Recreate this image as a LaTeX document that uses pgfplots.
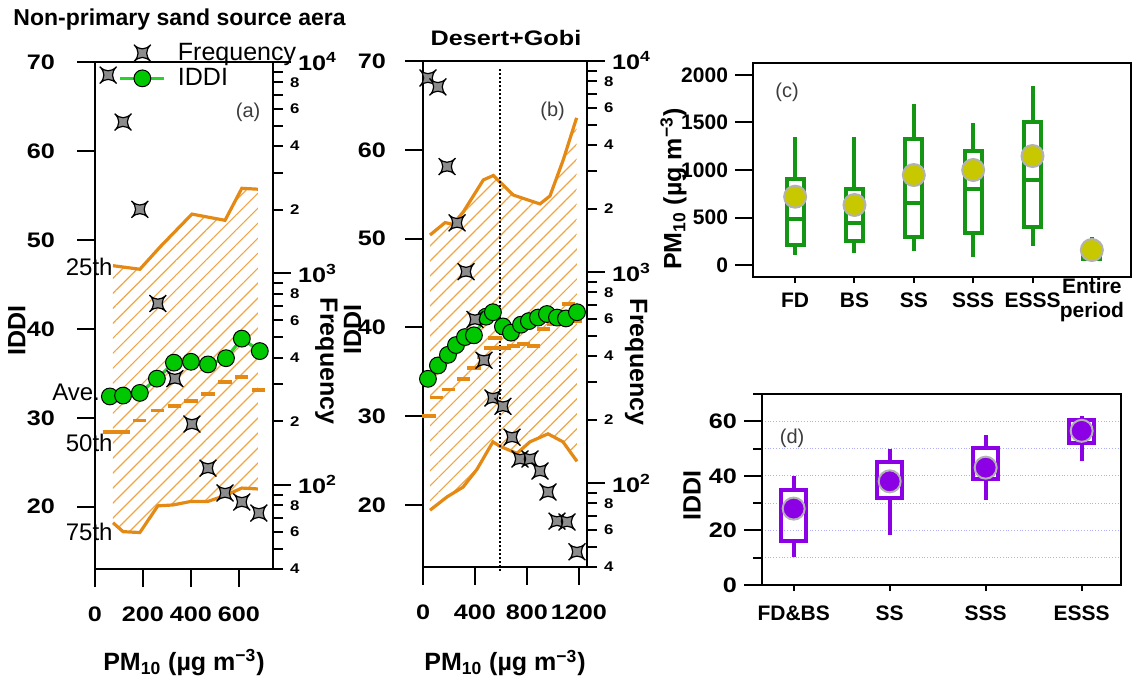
\documentclass[border=0pt]{standalone}
\usepackage{fontspec}
\setmainfont{Liberation Sans}
\newfontfamily\wide{Liberation Sans}[FakeStretch=1.2]
\usepackage{pgfplots}
\pgfplotsset{compat=1.18}
\usepgfplotslibrary{fillbetween}
\usetikzlibrary{patterns.meta}

\definecolor{orangeC}{RGB}{228,138,20}
\definecolor{hatchC}{RGB}{238,165,70}
\definecolor{greenC}{RGB}{0,200,0}
\definecolor{greenL}{RGB}{40,210,40}
\definecolor{starG}{RGB}{140,140,140}
\definecolor{boxG}{RGB}{20,150,20}
\definecolor{meanY}{RGB}{200,200,0}
\definecolor{purp}{RGB}{140,0,230}
\definecolor{gridB}{RGB}{175,175,255}
\definecolor{albl}{RGB}{60,60,60}

\pgfdeclareplotmark{star4}{%
  \pgfpathmoveto{\pgfqpoint{\pgfplotmarksize}{\pgfplotmarksize}}%
  \pgfpathcurveto{\pgfqpoint{0.35\pgfplotmarksize}{0.35\pgfplotmarksize}}{\pgfqpoint{-0.35\pgfplotmarksize}{0.35\pgfplotmarksize}}{\pgfqpoint{-\pgfplotmarksize}{\pgfplotmarksize}}%
  \pgfpathcurveto{\pgfqpoint{-0.35\pgfplotmarksize}{0.35\pgfplotmarksize}}{\pgfqpoint{-0.35\pgfplotmarksize}{-0.35\pgfplotmarksize}}{\pgfqpoint{-\pgfplotmarksize}{-\pgfplotmarksize}}%
  \pgfpathcurveto{\pgfqpoint{-0.35\pgfplotmarksize}{-0.35\pgfplotmarksize}}{\pgfqpoint{0.35\pgfplotmarksize}{-0.35\pgfplotmarksize}}{\pgfqpoint{\pgfplotmarksize}{-\pgfplotmarksize}}%
  \pgfpathcurveto{\pgfqpoint{0.35\pgfplotmarksize}{-0.35\pgfplotmarksize}}{\pgfqpoint{0.35\pgfplotmarksize}{0.35\pgfplotmarksize}}{\pgfqpoint{\pgfplotmarksize}{\pgfplotmarksize}}%
  \pgfpathclose
  \pgfusepathqfillstroke}

\newcommand\tk{\wide\bfseries\fontsize{10.5}{12}\selectfont}
\newcommand\tkn{\bfseries\fontsize{10.5}{12}\selectfont}
\newcommand\tks{\wide\bfseries\fontsize{7}{8}\selectfont}
\newcommand\lb{\bfseries\fontsize{12.5}{14}\selectfont}
\newcommand\ann{\fontsize{12}{14}\selectfont}
\newcommand\pl{\color{albl}\fontsize{10}{12}\selectfont}
\newcommand\pmlab{PM\textsubscript{10} (µg m\textsuperscript{−3})}

\pgfplotsset{
  myax/.style={scale only axis, clip=false, anchor=south west,
    axis line style={line width=1pt},
    every tick/.append style={line width=1pt,black},
    tick align=outside, major tick length=9pt, minor tick length=4.5pt,
    tick label style={font=\tk},
    /pgf/number format/assume math mode=true,
    /pgf/number format/1000 sep={},
    label style={font=\lb}},
  logax/.style={myax, axis x line=none, axis y line*=right,
    ymin=40, ymax=10000, yminorticks=false,
    ytick={100,1000,10000},
    yticklabels={10\textsuperscript{2},10\textsuperscript{3},10\textsuperscript{4}},
    extra y ticks={40,50,60,70,80,90,200,300,400,500,600,700,800,900,2000,3000,4000,5000,6000,7000,8000,9000},
    extra y tick labels={4,,6,,8,,2,,4,,6,,8,,2,,4,,6,,8,},
    extra y tick style={major tick length=5pt, tick label style={font=\tks}},
    ylabel={Frequency}},
  starst/.style={only marks, mark=star4, mark size=4.2pt,
    mark options={fill=starG, draw=black, line width=0.6pt}},
  hatch/.style={draw=none, pattern={Lines[angle=45,distance=5.3pt,line width=0.6pt]}, pattern color=hatchC},
  pctl/.style={orangeC, line width=1.6pt},
  dashst/.style={only marks, mark=-, mark size=3.3pt, mark options={line width=1.8pt, orangeC}},
  iddist/.style={color=greenL, line width=1.6pt, mark=*, mark size=4.2pt,
    mark options={fill=greenC, draw=black, line width=0.5pt}},
  bxg/.style={boxG, line width=2pt, line join=miter, unbounded coords=jump, mark=none},
  bxp/.style={purp, line width=2pt, line join=miter, unbounded coords=jump, mark=none},
}

\begin{document}
\begin{tikzpicture}

\node[anchor=west, inner sep=0pt, font=\bfseries\fontsize{11.5}{13}\selectfont] at (6.5pt,328pt) {Non-primary sand source aera};
\node[font=\wide\bfseries\fontsize{10.5}{13}\selectfont] at (253pt,319pt) {Desert+Gobi};

% ---------------- panel (a) ----------------
\begin{axis}[myax, at={(47.5pt,53.5pt)}, width=89pt, height=253.5pt,
  xticklabel style={yshift=-6.5pt}, yticklabel style={xshift=-7.5pt},
  xmin=0, xmax=742, ymin=13, ymax=70,
  xtick={0,200,400,600}, ytick={20,30,...,70},
  xtick pos=bottom, ytick pos=left,
  xlabel={\pmlab}, ylabel={IDDI},
  xlabel style={at={(axis description cs:0.5,-0.185)}, anchor=center},
  ylabel style={at={(axis description cs:-0.44,0.47)}, anchor=center},
  legend style={draw=none, fill=none, font=\fontsize{12.5}{14}\selectfont,
    at={(0.12,1.05)}, anchor=north west, row sep=-1.5pt, column sep=4pt, inner sep=1pt},
  legend cell align=left,
  legend image code/.code={\draw[mark repeat=2,mark phase=2,#1] plot coordinates {(0pt,0pt) (11pt,0pt) (22pt,0pt)};},
]
\addlegendimage{starst}
\addlegendentry{Frequency}
\addplot[name path=upA, draw=none, forget plot] coordinates {(75,47.1) (187,46.7) (271,49.2) (404,52.9) (542,52.2) (612,55.8) (679,55.7)};
\addplot[name path=loA, draw=none, forget plot] coordinates {(75,18.2) (117,17.2) (187,17.1) (262,20.1) (325,20.2) (400,20.6) (471,20.6) (546,21.3) (612,22.1) (679,22.0)};
\addplot[hatch, forget plot] fill between[of=upA and loA];
\addplot[pctl, forget plot] coordinates {(75,47.1) (187,46.7) (271,49.2) (404,52.9) (542,52.2) (612,55.8) (679,55.7)};
\addplot[pctl, forget plot] coordinates {(75,18.2) (117,17.2) (187,17.1) (262,20.1) (325,20.2) (400,20.6) (471,20.6) (546,21.3) (612,22.1) (679,22.0)};
\addplot[dashst, forget plot] coordinates {(62,28.4) (117,28.4) (187,29.7) (260,30.8) (330,31.3) (400,31.9) (471,32.7) (542,34.0) (612,34.6) (683,33.1)};
\addplot[iddist] coordinates {(62,32.4) (117,32.5) (187,32.8) (258,34.4) (329,36.2) (400,36.3) (471,36.0) (546,36.7) (612,38.9) (687,37.5)};
\addlegendentry{IDDI}
\node[anchor=east, font=\ann, inner sep=0pt] at (axis cs:75,47.0) {25th};
\node[anchor=east, font=\ann, inner sep=0pt] at (axis cs:22,32.9) {Ave.};
\node[anchor=east, font=\ann, inner sep=0pt] at (axis cs:75,27.2) {50th};
\node[anchor=east, font=\ann, inner sep=0pt] at (axis cs:75,17.2) {75th};
\node[font=\pl] at (rel axis cs:0.86,0.9) {(a)};
\end{axis}
\begin{axis}[logax, ymode=log, at={(47.5pt,53.5pt)}, width=89pt, height=253.5pt,
  xmin=0, xmax=742,
  ylabel style={at={(axis description cs:1.30,0.41)}, anchor=center, rotate=180}]
\addplot[starst] coordinates {(55,8670) (117,5200) (187,2010) (262,721) (333,318) (404,194) (471,120) (542,91.6) (612,83) (683,73.6)};
\end{axis}

% ---------------- panel (b) ----------------
\begin{axis}[myax, at={(211.5pt,54.5pt)}, width=82pt, height=253pt,
  xticklabel style={yshift=-6.5pt}, yticklabel style={xshift=-6pt},
  xmin=0, xmax=1262, ymin=13, ymax=70,
  xtick={0,400,800,1200}, ytick={20,30,...,70},
  xtick pos=bottom, ytick pos=left,
  xlabel={\pmlab}, ylabel={IDDI},
  xlabel style={at={(axis description cs:0.5,-0.19)}, anchor=center},
  ylabel style={at={(axis description cs:-0.43,0.47)}, anchor=center},
]
\addplot[name path=upB, draw=none] coordinates {(54,50.4) (170,51.8) (230,51.6) (310,53.0) (464,56.6) (541,57.1) (695,54.9) (900,53.9) (977,54.8) (1080,58.9) (1182,63.6)};
\addplot[name path=loB, draw=none] coordinates {(54,19.4) (185,20.9) (308,22.0) (415,24.0) (538,27.1) (592,26.6) (723,25.8) (823,27.1) (962,28.0) (1077,27.1) (1185,24.9)};
\addplot[hatch] fill between[of=upB and loB];
\addplot[pctl] coordinates {(54,50.4) (170,51.8) (230,51.6) (310,53.0) (464,56.6) (541,57.1) (695,54.9) (900,53.9) (977,54.8) (1080,58.9) (1182,63.6)};
\addplot[pctl] coordinates {(54,19.4) (185,20.9) (308,22.0) (415,24.0) (538,27.1) (592,26.6) (723,25.8) (823,27.1) (962,28.0) (1077,27.1) (1185,24.9)};
\addplot[black, line width=1pt, densely dotted] coordinates {(592,12.6) (592,69.3)};
\addplot[dashst] coordinates {(46,30.0) (105,32.1) (195,33.0) (310,34.2) (392,35.4) (464,36.6) (521,37.7) (554,38.8) (623,37.7) (695,37.9) (772,38.1) (849,37.9) (925,39.8) (1002,40.3) (1041,41.5) (1118,42.6) (1169,40.7)};
\addplot[iddist] coordinates {(38,34.2) (115,35.7) (192,36.9) (254,38.0) (323,38.9) (392,39.1) (485,41.2) (538,41.7) (615,40.1) (677,39.4) (754,40.3) (815,40.7) (885,41.1) (954,41.5) (1031,41.1) (1100,41.0) (1185,41.7)};
\node[font=\pl] at (rel axis cs:0.79,0.9) {(b)};
\end{axis}
\begin{axis}[logax, ymode=log, at={(211.5pt,54.5pt)}, width=82pt, height=253pt,
  xmin=0, xmax=1262,
  ylabel style={at={(axis description cs:1.30,0.405)}, anchor=center, rotate=180}]
\addplot[starst] coordinates {(38,8310) (115,7540) (185,3160) (262,1710) (331,1004) (400,596) (469,382) (538,253) (615,231) (685,165) (746,130) (823,130) (900,114) (962,90.7) (1031,66) (1108,65.4) (1185,47.2)};
\end{axis}

% ---------------- panel (c) ----------------
\begin{axis}[myax, at={(376.5pt,199.5pt)}, width=189pt, height=107pt,
  tick label style={font=\tkn},
  xmin=-0.71, xmax=5.66, ymin=-126, ymax=2126,
  xtick={0,1,2,3,4,5}, xticklabels={FD,BS,SS,SSS,ESSS,{Entire\\period}},
  xticklabel style={align=center, anchor=center, yshift=-2.5pt},
  ytick={0,500,1000,1500,2000},
  xtick pos=bottom, ytick pos=left,
  xtick style={/pgfplots/major tick length=3pt},
  ylabel={\pmlab},
  ylabel style={at={(axis description cs:-0.21,0.41)}, anchor=center},
]
\addplot[bxg] coordinates {(0,105) (0,210) (0.145,210) (0.145,902) (0,902) (0,1344) (nan,nan) (0,902) (-0.145,902) (-0.145,210) (0,210) (nan,nan) (-0.145,484) (0.145,484)};
\addplot[bxg] coordinates {(1,123) (1,256) (1.145,256) (1.145,800) (1,800) (1,1350) (nan,nan) (1,800) (0.855,800) (0.855,256) (1,256) (nan,nan) (0.855,445) (1.145,445)};
\addplot[bxg] coordinates {(2,151) (2,291) (2.145,291) (2.145,1323) (2,1323) (2,1695) (nan,nan) (2,1323) (1.855,1323) (1.855,291) (2,291) (nan,nan) (1.855,649) (2.145,649)};
\addplot[bxg] coordinates {(3,81) (3,333) (3.145,333) (3.145,1203) (3,1203) (3,1491) (nan,nan) (3,1203) (2.855,1203) (2.855,333) (3,333) (nan,nan) (2.855,800) (3.145,800)};
\addplot[bxg] coordinates {(4,200) (4,397) (4.145,397) (4.145,1502) (4,1502) (4,1888) (nan,nan) (4,1502) (3.855,1502) (3.855,397) (4,397) (nan,nan) (3.855,895) (4.145,895)};
\addplot[bxg] coordinates {(5,40) (5,60) (5.145,60) (5.145,100) (5,100) (5,300) (nan,nan) (5,100) (4.855,100) (4.855,60) (5,60) (nan,nan) (4.855,80) (5.145,80)};
\addplot[only marks, mark=*, mark size=5.5pt, mark options={fill=meanY, draw=black!30, line width=1pt}] coordinates {(0,719) (1,632) (2,947) (3,1000) (4,1147) (5,158)};
\node[font=\pl] at (rel axis cs:0.09,0.865) {(c)};
\end{axis}

% ---------------- panel (d) ----------------
\begin{axis}[myax, at={(381pt,45.5pt)}, width=179.5pt, height=95.5pt,
  xmin=-0.33, xmax=3.41, ymin=0, ymax=70,
  xtick={0,1,2,3}, xticklabels={FD\&BS,SS,SSS,ESSS},
  xticklabel style={font=\tkn, yshift=2pt},
  ytick={0,20,40,60}, minor ytick={10,30,50,70},
  xtick pos=bottom, ytick pos=left,
  xtick style={/pgfplots/major tick length=3pt},
  ymajorgrids, yminorgrids,
  major grid style={gridB, densely dotted, line width=0.6pt},
  minor grid style={gridB, densely dotted, line width=0.6pt},
  ylabel={IDDI},
  ylabel style={at={(axis description cs:-0.195,0.47)}, anchor=center},
]
\addplot[bxp] coordinates {(0,10.2) (0,16) (0.13,16) (0.13,35) (0,35) (0,40) (nan,nan) (0,35) (-0.13,35) (-0.13,16) (0,16)};
\addplot[bxp] coordinates {(1,18.4) (1,32) (1.13,32) (1.13,45.2) (1,45.2) (1,50) (nan,nan) (1,45.2) (0.87,45.2) (0.87,32) (1,32)};
\addplot[bxp] coordinates {(2,31.3) (2,38.9) (2.13,38.9) (2.13,50.1) (2,50.1) (2,54.9) (nan,nan) (2,50.1) (1.87,50.1) (1.87,38.9) (2,38.9)};
\addplot[bxp] coordinates {(3,45.4) (3,52.2) (3.13,52.2) (3.13,60.4) (3,60.4) (3,62) (nan,nan) (3,60.4) (2.87,60.4) (2.87,52.2) (3,52.2)};
\addplot[only marks, mark=*, mark size=5.5pt, mark options={fill=purp, draw=black!30, line width=1pt}] coordinates {(0,28) (1,38) (2,43) (3,56.5)};
\node[font=\pl] at (rel axis cs:0.084,0.77) {(d)};
\end{axis}

\pgfresetboundingbox
\path[use as bounding box] (0,0) rectangle (569pt,338pt);
\end{tikzpicture}
\end{document}
